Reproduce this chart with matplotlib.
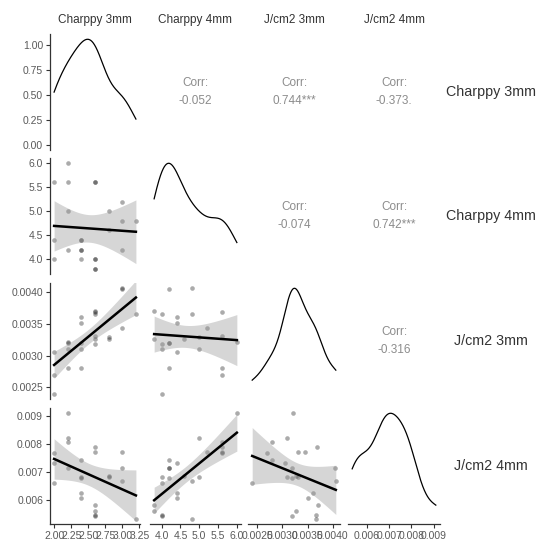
import numpy as np
import matplotlib
matplotlib.use("Agg")
import matplotlib.pyplot as plt

plt.rcParams['font.family'] = ['Liberation Sans', 'DejaVu Sans']

# data (24 samples)
charppy_3mm = [2.2, 2.0, 2.2, 2.6, 2.6, 3.0, 2.2, 2.8, 3.0, 3.2, 2.8, 2.0,
               2.4, 2.4, 2.2, 2.4, 2.4, 3.0, 2.0, 2.4, 2.6, 2.6, 2.6, 2.6]
charppy_4mm = [6.0, 5.6, 5.6, 5.6, 5.6, 5.2, 5.0, 5.0, 4.8, 4.8, 4.6, 4.4,
               4.4, 4.4, 4.2, 4.2, 4.2, 4.2, 4.0, 4.0, 4.0, 4.0, 3.8, 3.8]
jcm2_3mm = [0.00322, 0.00270, 0.00280, 0.00369, 0.00331, 0.00344, 0.00310, 0.00330,
            0.00406, 0.00366, 0.00326, 0.00305, 0.00360, 0.00351, 0.00320, 0.00280,
            0.00320, 0.00405, 0.00240, 0.00310, 0.00366, 0.00319, 0.00370, 0.00326]
jcm2_4mm = [0.00910, 0.00767, 0.00807, 0.00789, 0.00773, 0.00771, 0.00820, 0.00682,
            0.00667, 0.00533, 0.00687, 0.00734, 0.00625, 0.00607, 0.00713, 0.00744,
            0.00677, 0.00716, 0.00660, 0.00681, 0.00548, 0.00542, 0.00583, 0.00560]

names = ['Charppy 3mm', 'Charppy 4mm', 'J/cm2 3mm', 'J/cm2 4mm']
columns = [charppy_3mm, charppy_4mm, jcm2_3mm, jcm2_4mm]

# upper triangle labels: (row, col) -> text
corr_labels = {(0, 1): '-0.052', (0, 2): '0.744***', (0, 3): '-0.373.',
               (1, 2): '-0.074', (1, 3): '0.742***', (2, 3): '-0.316'}

ticks = [[2.00, 2.25, 2.50, 2.75, 3.00, 3.25],
         [4.0, 4.5, 5.0, 5.5, 6.0],
         [0.0025, 0.0030, 0.0035, 0.0040],
         [0.006, 0.007, 0.008, 0.009]]
tick_fmt = ['%.2f', '%.1f', '%.4f', '%.3f']
dens_ticks = [0.00, 0.25, 0.50, 0.75, 1.00]

W, H = 540, 543
col_px = [(50, 140), (150, 241), (248, 340), (348, 440)]
row_px = [(34, 150), (158, 274), (283, 399), (408, 524)]

fig = plt.figure(figsize=(W / 100, H / 100), dpi=100)
fig.patch.set_facecolor('white')

axcol = '#333333'
labcol = '#5a5a5a'


def box(c, r):
    x0, x1 = col_px[c]
    y0, y1 = row_px[r]
    return [x0 / W, 1 - y1 / H, (x1 - x0) / W, (y1 - y0) / H]


def expand(v):
    lo, hi = min(v), max(v)
    d = (hi - lo) * 0.05
    return lo - d, hi + d


def kde(v):
    v = np.asarray(v)
    n = len(v)
    sd = v.std(ddof=1)
    iqr = np.percentile(v, 75) - np.percentile(v, 25)
    bw = 0.9 * min(sd, iqr / 1.34) * n ** -0.2
    xs = np.linspace(v.min(), v.max(), 512)
    ys = np.exp(-0.5 * ((xs[:, None] - v[None, :]) / bw) ** 2).sum(1) / (n * bw * np.sqrt(2 * np.pi))
    return xs, ys


def style(ax, r, c):
    for s in ['top', 'right']:
        ax.spines[s].set_visible(False)
    for s in ['left', 'bottom']:
        ax.spines[s].set_color(axcol)
        ax.spines[s].set_linewidth(0.9)
    ax.tick_params(colors=axcol, labelcolor=labcol, labelsize=7.5, length=3, width=0.8, pad=2)
    if c != 0:
        ax.spines['left'].set_visible(False)
        ax.set_yticks([])
    if r != 3:
        ax.spines['bottom'].set_visible(False)
        ax.set_xticks([])
    else:
        ax.set_xticks(ticks[c])
        ax.set_xticklabels([tick_fmt[c] % t for t in ticks[c]])


for r in range(4):
    for c in range(4):
        ax = fig.add_axes(box(c, r))
        ax.set_facecolor('white')
        if c > r:
            ax.axis('off')
            ax.text(0.5, 0.58, 'Corr:', transform=ax.transAxes, ha='center', va='center',
                    fontsize=8.5, color='#8c8c8c')
            ax.text(0.5, 0.42, corr_labels[(r, c)], transform=ax.transAxes, ha='center',
                    va='center', fontsize=8.5, color='#8c8c8c')
            continue
        x = np.asarray(columns[c])
        if r == c:
            xs, ys = kde(x)
            ax.plot(xs, ys, color='black', lw=0.9)
            ax.set_xlim(*expand(x))
            top = ys.max()
            ax.set_ylim(-0.05 * top, top * 1.05)
            style(ax, r, c)
            if c == 0:
                ax.set_yticks(dens_ticks)
                ax.set_yticklabels(['%.2f' % t for t in dens_ticks])
            continue
        y = np.asarray(columns[r])
        ax.scatter(x, y, s=11, color='black', alpha=0.33, lw=0, zorder=2)
        # linear fit with 95% band
        n = len(x)
        slope, icpt = np.polyfit(x, y, 1)
        resid = y - (slope * x + icpt)
        s = np.sqrt((resid ** 2).sum() / (n - 2))
        xg = np.linspace(x.min(), x.max(), 80)
        yg = slope * xg + icpt
        se = s * np.sqrt(1 / n + (xg - x.mean()) ** 2 / ((x - x.mean()) ** 2).sum())
        ax.fill_between(xg, yg - 2.074 * se, yg + 2.074 * se, color='#999999', alpha=0.4,
                        lw=0, zorder=3)
        ax.plot(xg, yg, color='black', lw=1.8, zorder=4)
        ax.set_xlim(*expand(x))
        ax.set_ylim(*expand(y))
        style(ax, r, c)
        if c == 0:
            ax.set_yticks(ticks[r])
            ax.set_yticklabels([tick_fmt[r] % t for t in ticks[r]])

# strip labels
for c, nm in enumerate(names):
    cx = (col_px[c][0] + col_px[c][1]) / 2 / W
    fig.text(cx, 1 - 20 / H, nm, ha='center', va='center', fontsize=8.5, color='#333333')
for r, nm in enumerate(names):
    cy = 1 - (row_px[r][0] + row_px[r][1]) / 2 / H
    fig.text(491 / W, cy, nm, ha='center', va='center', fontsize=10.3, color='#333333')

fig.savefig('out.png', dpi=100, facecolor='white')
